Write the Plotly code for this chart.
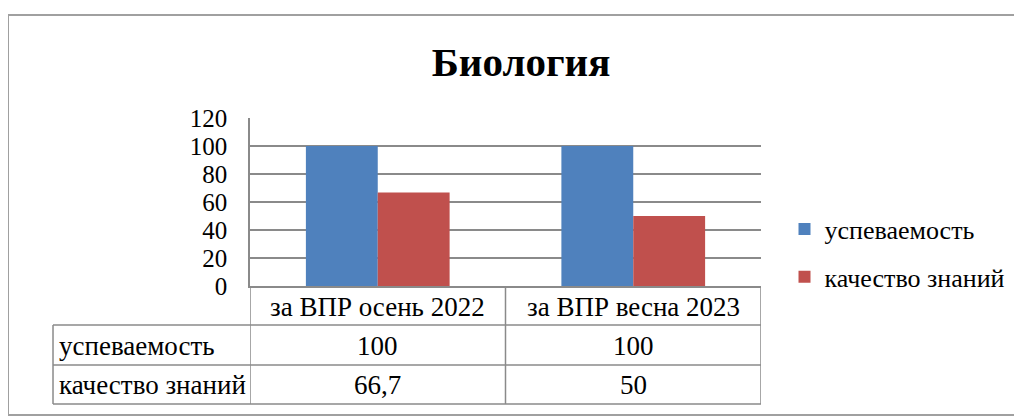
import plotly.graph_objects as go

# ── Data ─────────────────────────────────────────────────────────────────────
categories = ["за ВПР осень 2022", "за ВПР весна 2023"]
series_names = ["успеваемость", "качество знаний"]
uspevaemost = [100, 100]
kachestvo = [66.7, 50]
value_labels = [["100", "100"], ["66,7", "50"]]
y_ticks = [0, 20, 40, 60, 80, 100, 120]

colors = ["#4f81bd", "#c0504d"]
grid = "#8a8a8a"
serif = "Liberation Serif"


def f(size):
    return dict(family=serif, size=size, color="black")


fig = go.Figure()
for name, vals, col in zip(series_names, [uspevaemost, kachestvo], colors):
    fig.add_trace(go.Bar(x=categories, y=vals, name=name, marker_color=col,
                         marker_line_width=0, legendgroup=name))

# ── Data table under the axis ────────────────────────────────────────────────
row_y = [-0.232, -0.470, -0.702]      # row separators (paper)
header_y = -0.125
text_y = [-0.357, -0.589]
label_left = -0.3855

shapes = []
for xv in [-0.5, 0.5, 1.5]:
    shapes.append(dict(type="line", xref="x", yref="paper", x0=xv, x1=xv,
                       y0=0, y1=row_y[-1], line=dict(color=grid, width=1.5)))
for yv in row_y:
    shapes.append(dict(type="line", xref="paper", yref="paper", x0=label_left, x1=1,
                       y0=yv, y1=yv, line=dict(color=grid, width=1.5)))
shapes.append(dict(type="line", xref="paper", yref="paper", x0=label_left, x1=label_left,
                   y0=row_y[0], y1=row_y[-1], line=dict(color=grid, width=1.5)))
# outer chart border
shapes.append(dict(type="rect", xref="paper", yref="paper", x0=-0.4736, x1=1.62,
                   y0=-0.768, y1=1.613, line=dict(color="#a0a0a0", width=2)))

annotations = []
for cat in categories:
    annotations.append(dict(x=cat, y=header_y, xref="x", yref="paper", text=cat,
                            yanchor="middle", showarrow=False, font=f(27)))
for r, name in enumerate(series_names):
    annotations.append(dict(x=label_left + 0.008, y=text_y[r], xref="paper", yref="paper",
                            text=name, xanchor="left", yanchor="middle",
                            showarrow=False, font=f(27)))
    for cat, lab in zip(categories, value_labels[r]):
        annotations.append(dict(x=cat, y=text_y[r], xref="x", yref="paper", text=lab,
                                yanchor="middle", showarrow=False, font=f(27)))

fig.update_layout(
    template="none",
    width=1022, height=417,
    margin=dict(l=242, r=269, t=110, b=139),
    paper_bgcolor="white", plot_bgcolor="white",
    font=f(27),
    title=dict(text="<b>Биология</b>", x=0.502, xref="container", xanchor="center",
               y=0.8705, yref="container", yanchor="middle", font=f(41)),
    barmode="group", bargap=0.4375, bargroupgap=0,
    showlegend=True,
    legend=dict(x=1.046, y=0.196, xref="paper", yref="paper", yanchor="middle",
                traceorder="grouped", tracegroupgap=11, font=f(26),
                bgcolor="rgba(0,0,0,0)"),
    shapes=shapes, annotations=annotations,
)
fig.update_xaxes(showticklabels=False, showgrid=False, showline=True,
                 linecolor=grid, linewidth=1.5, range=[-0.5, 1.5], ticks="")
fig.update_yaxes(range=[0, 120], tickvals=y_ticks, showgrid=True, gridcolor=grid,
                 gridwidth=1.5, showline=True, linecolor=grid, linewidth=1.5,
                 zeroline=False, ticks="", ticklabelstandoff=16, tickfont=f(25))

fig.write_html("out.html")
